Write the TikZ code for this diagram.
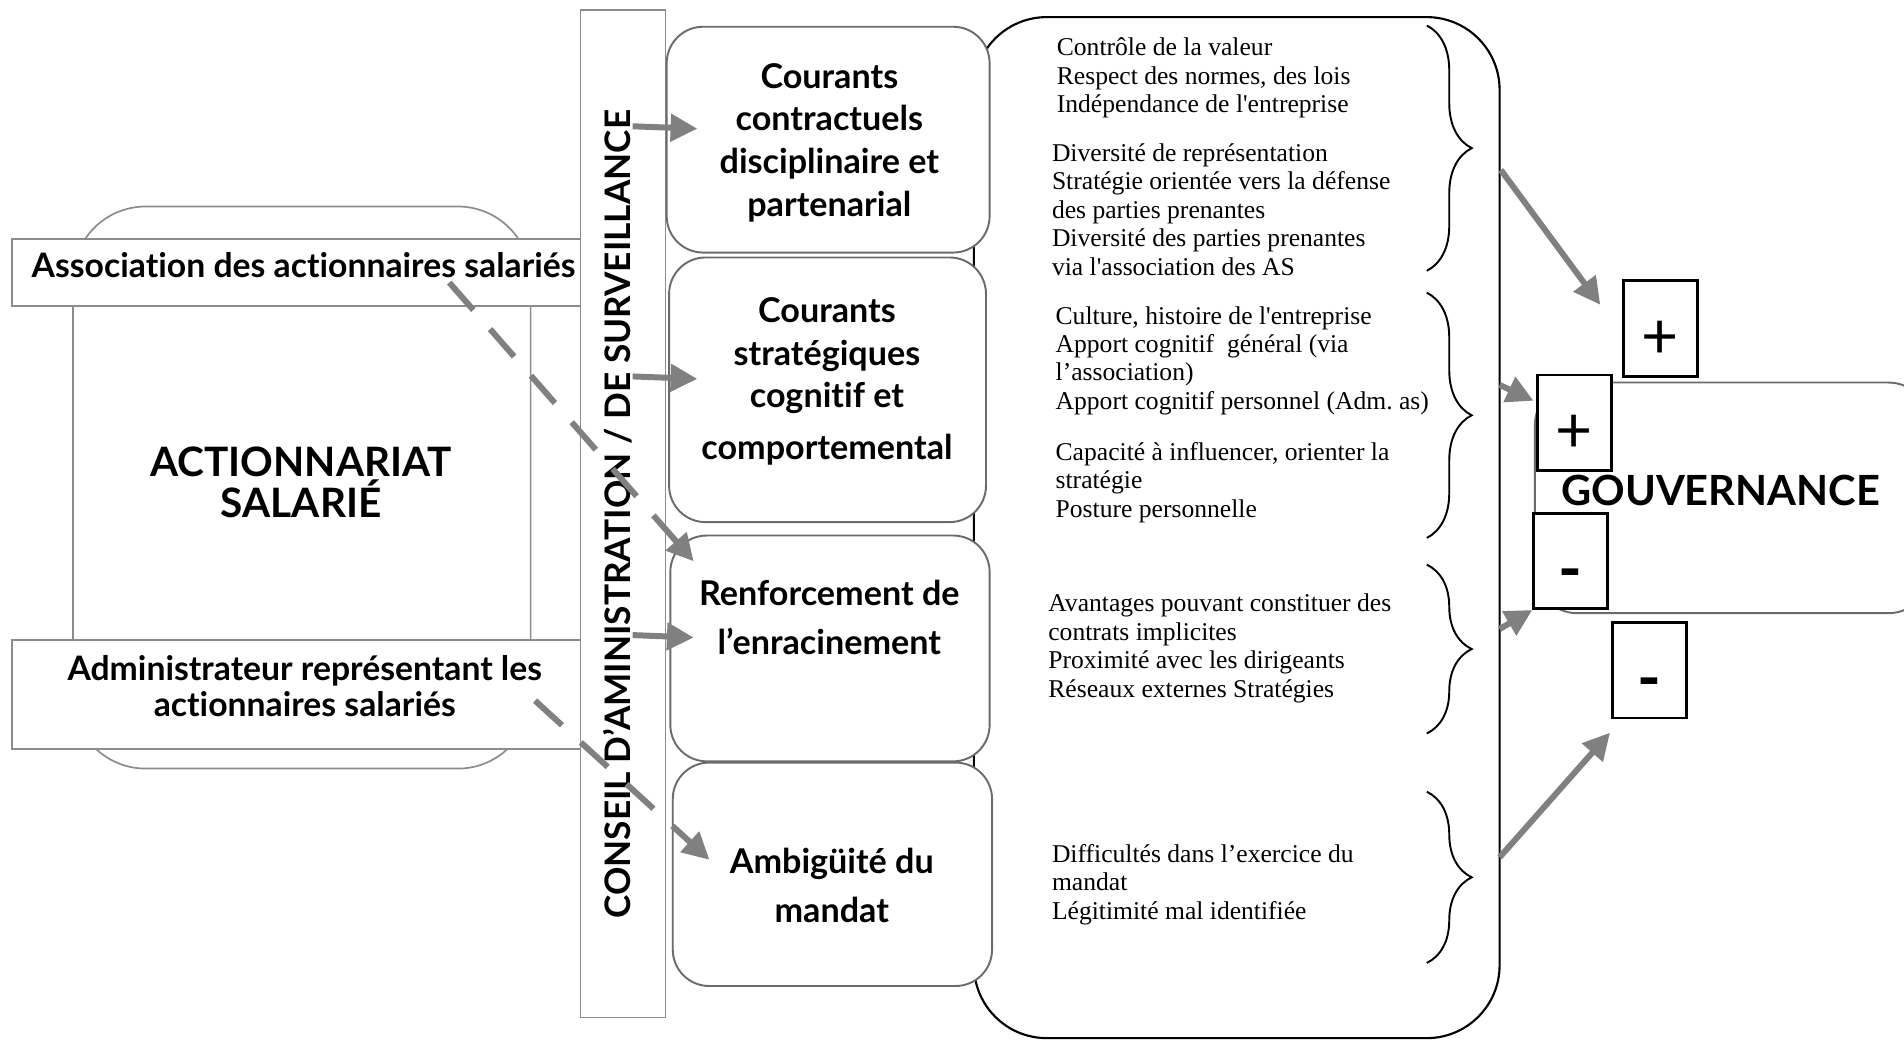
\documentclass[tikz,border=0pt]{standalone}
\usepackage{fontspec}
\setmainfont{Liberation Serif}
\newfontfamily\gillsans{Lato}[Ligatures=NoCommon]
\usetikzlibrary{arrows.meta,calc,decorations.pathreplacing}
\definecolor{framegray}{gray}{0.55}
\definecolor{boxgray}{gray}{0.42}
\definecolor{arrowgray}{gray}{0.5}
\frenchspacing

\begin{document}
\begin{tikzpicture}[x=0.02cm,y=-0.02cm,
  leftbox/.style={draw=framegray,line width=0.8pt,fill=white,inner sep=0pt},
  courant/.style={draw=boxgray,line width=0.9pt,fill=white,rounded corners=0.6cm,inner sep=0pt},
  signbox/.style={draw=black,line width=1.3pt,fill=white,inner sep=0pt,minimum width=1.22cm,minimum height=1.57cm},
  plusmark/.style={font=\gillsans\fontsize{30}{30}\selectfont,inner sep=0pt,yshift=-5.4pt},
  minusmark/.style={font=\gillsans\bfseries\fontsize{30}{30}\selectfont,inner sep=0pt,yshift=-9pt},
  boldsans/.style={font=\gillsans\bfseries\fontsize{15.8}{17}\selectfont,align=center,inner sep=0pt},
  titlesans/.style={font=\gillsans\bfseries\fontsize{16}{20}\selectfont,align=center,inner sep=0pt},
  bigsans/.style={font=\gillsans\bfseries\fontsize{19}{19}\selectfont,align=center,inner sep=0pt},
  note/.style={font=\fontsize{12}{13.3}\selectfont,align=left,anchor=north west,inner sep=0pt},
  bracket/.style={decorate,decoration={brace,amplitude=0.74cm},line width=0.9pt},
  grayarrow/.style={draw=arrowgray,line width=2.8pt,-{Triangle[length=0.44cm,width=0.44cm]}},
  dashedarrow/.style={grayarrow,dash pattern=on 0.6cm off 0.42cm}]

  \useasboundingbox (0,0) rectangle (1568,856);

  \node[draw=framegray,line width=0.8pt,rounded corners=1.2cm,minimum width=7.54cm,minimum height=9.26cm] (actio) at (248.5,401.5) {};
  \node[bigsans] (actiotxt) at (248,397) {ACTIONNARIAT\\SALARIÉ};
  \node[leftbox,minimum width=9.36cm,minimum height=1.1cm] (assoc) at (244,224.5) {};
  \node[boldsans] (assoctxt) at (250,218) {Association des actionnaires salariés};
  \node[leftbox,minimum width=9.36cm,minimum height=1.8cm] (admin) at (244,572) {};
  \node[boldsans] (admintxt) at (251,565) {Administrateur représentant les\\actionnaires salariés};
  \node[leftbox,minimum width=1.4cm,minimum height=16.6cm] (bar) at (513,423) {};
  \node[font=\gillsans\bfseries\fontsize{16.5}{20}\selectfont,rotate=90,inner sep=0pt] (bartxt) at (509,423.5) {CONSEIL D’AMINISTRATION / DE SURVEILLANCE};

  \node[draw,line width=1pt,rounded corners=1.2cm,minimum width=8.66cm,minimum height=16.82cm] (frame) at (1018.5,434.5) {};

  \node[courant,minimum width=5.32cm,minimum height=3.72cm] (cour1) at (682,115) {};
  \node[titlesans] (cour1txt) at (683,117.5) {Courants\\contractuels\\disciplinaire et\\partenarial};
  \node[courant,minimum width=5.22cm,minimum height=4.36cm] (cour2) at (681.5,321) {};
  \node[titlesans] (cour2txt) at (681,314) {Courants\\stratégiques\\cognitif et\\[4pt]comportemental};
  \node[courant,minimum width=5.26cm,minimum height=3.72cm] (cour3) at (683.5,534) {};
  \node[titlesans] (cour3txt) at (683,508.5) {Renforcement de\\[3.3pt]l’enracinement};
  \node[courant,minimum width=5.26cm,minimum height=3.68cm] (cour4) at (685.5,720) {};
  \node[titlesans] (cour4txt) at (685,729.5) {Ambigüité du\\[3pt]mandat};

  \node[note] (n1) at (870,31) {Contrôle de la valeur\\Respect des normes, des lois\\Indépendance de l\textquotesingle entreprise};
  \node[note] (n2) at (866,118) {Diversité de représentation\\Stratégie orientée vers la défense\\des parties prenantes\\Diversité des parties prenantes\\via l\textquotesingle association des AS};
  \node[note] (n3) at (869,252) {Culture, histoire de l\textquotesingle entreprise\\Apport cognitif~ général (via\\l’association)\\Apport cognitif personnel (Adm. as)};
  \node[note] (n4) at (869,364) {Capacité à influencer, orienter la\\stratégie\\Posture personnelle};
  \node[note] (n5) at (863,489) {Avantages pouvant constituer des\\contrats implicites\\Proximité avec les dirigeants\\Réseaux externes Stratégies};
  \node[note] (n6) at (866,695) {Difficultés dans l’exercice du\\mandat\\Légitimité mal identifiée};

  \draw[bracket] (1175,21) -- (1175,223);
  \draw[bracket] (1175,241) -- (1175,443);
  \draw[bracket] (1175,465) -- (1175,604);
  \draw[bracket] (1175,652) -- (1175,793);

  \node[draw=boxgray,line width=0.9pt,rounded corners=0.7cm,minimum width=6.52cm,minimum height=3.8cm] (gov) at (1427,410) {};
  \node[font=\gillsans\bfseries\fontsize{19.5}{20}\selectfont,inner sep=0pt] (govtxt) at (1417,404) {GOUVERNANCE};
  \node[signbox,label={[plusmark]center:+}] (plus1) at (1367.5,270.5) {};
  \node[signbox,label={[plusmark]center:+}] (plus2) at (1296.5,348) {};
  \node[signbox,label={[minusmark]center:-}] (minus1) at (1293.5,462) {};
  \node[signbox,label={[minusmark]center:-}] (minus2) at (1358.5,552) {};

  \coordinate (s1) at (521,104);
  \coordinate (s2) at (521,310);
  \coordinate (s3) at (521,523);
  \draw[grayarrow] (s1) -- ($(cour1.west)+(26,-9)$);
  \draw[grayarrow] (s2) -- ($(cour2.west)+(24,-9)$);
  \draw[grayarrow] (s3) -- ($(cour3.west)+(20,-9)$);
  \draw[dashedarrow] ($(assoc.south)+(126,-20)$) -- ($(cour3.north west)+(20,22)$);
  \draw[dashedarrow] ($(admin.east)+(-38,5)$) -- ($(cour4.west)+(31,-12)$);

  \coordinate (g1) at (1236,140);
  \coordinate (g2) at (1235,317);
  \coordinate (g3) at (1235,518);
  \coordinate (g4) at (1235,706);
  \draw[grayarrow] (g1) -- ($(plus1.west)+(-18,-19.5)$);
  \draw[grayarrow] (g2) -- ($(plus2.west)+(-2,-18)$);
  \draw[grayarrow] (g3) -- (minus1.south west);
  \draw[grayarrow] (g4) -- ($(minus2.south west)+(-1,11)$);
\end{tikzpicture}
\end{document}
